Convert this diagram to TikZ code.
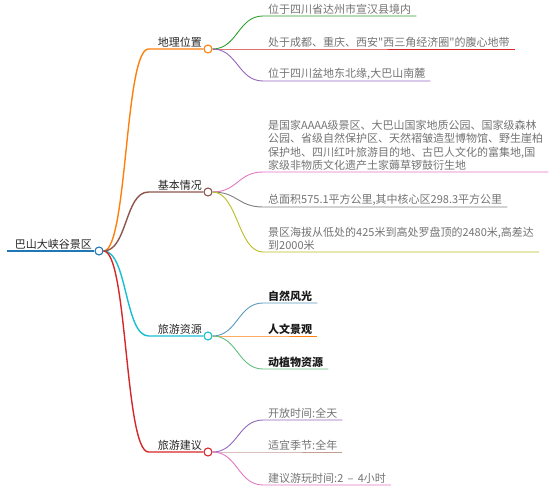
\documentclass[tikz,border=0pt]{standalone}
\usepackage{fontspec}
\setmainfont{Noto Sans CJK SC}[Ligatures=TeXOff]
\usepackage{tikz}
\usetikzlibrary{positioning}

\definecolor{cblue}{HTML}{1F77B4}
\definecolor{corange}{HTML}{FF7F0E}
\definecolor{cgreen}{HTML}{2CA02C}
\definecolor{cred}{HTML}{D62728}
\definecolor{cpurple}{HTML}{9467BD}
\definecolor{cbrown}{HTML}{8C564B}
\definecolor{cpink}{HTML}{E377C2}
\definecolor{cgray}{HTML}{7F7F7F}
\definecolor{colive}{HTML}{BCBD22}
\definecolor{ccyan}{HTML}{17BECF}
\definecolor{ctaupe}{HTML}{C49C94}
\definecolor{csteel}{HTML}{5B9BBF}
\definecolor{cmint}{HTML}{5FBF7F}

\begin{document}
\begin{tikzpicture}[x=1pt, y=-1pt,
  every node/.style={font=\fontsize{11}{13.5}\selectfont},
  rootlabel/.style={anchor=south east, inner xsep=2pt, inner ysep=1pt, text=black!85},
  branchlabel/.style={anchor=south east, inner xsep=2pt, inner ysep=1pt, text=black!85},
  leaf/.style={anchor=south west, inner xsep=5pt, inner ysep=1pt, align=left, text=black!55},
  boldleaf/.style={leaf, text=black!90, font=\fontsize{11}{13.5}\selectfont\bfseries},
  knob/.style={circle, draw=#1, fill=white, line width=1.1pt, inner sep=0pt, minimum size=8pt},
  trunk/.style={line width=1.4pt, draw=#1},
  twig/.style={line width=0.9pt, draw=#1}]
  \useasboundingbox (0,0) rectangle (556,494);

  % root
  \node (rootc) [knob=cblue] at (99,251) {};
  \node (root) [rootlabel] at (94,251) {巴山大峡谷景区};
  \draw [line width=2.6pt, cblue] ([xshift=-6pt]root.south west) -- (rootc);

  % main branches
  \node (geoc) [knob=corange] at (208,49) {};
  \node (geo) [branchlabel] at (204,49) {地理位置};
  \node (basicc) [knob=cbrown] at (208,192) {};
  \node (basic) [branchlabel] at (204,192) {基本情况};
  \node (resc) [knob=ccyan] at (208,336) {};
  \node (res) [branchlabel] at (204,336) {旅游资源};
  \node (tipsc) [knob=cred] at (208,452) {};
  \node (tips) [branchlabel] at (204,452) {旅游建议};

  \draw [trunk=corange] (rootc.east) .. controls +(24,0) and +(-24,0) .. ([xshift=-7pt]geo.south west) -- (geoc);
  \draw [trunk=cbrown] (rootc.east) .. controls +(24,0) and +(-24,0) .. ([xshift=-7pt]basic.south west) -- (basicc);
  \draw [trunk=ccyan] (rootc.east) .. controls +(24,0) and +(-24,0) .. ([xshift=-7pt]res.south west) -- (resc);
  \draw [trunk=cred] (rootc.east) .. controls +(24,0) and +(-24,0) .. ([xshift=-7pt]tips.south west) -- (tipsc);

  % leaves
  \node (geoa) [leaf] at (263,16) {位于四川省达州市宣汉县境内};
  \node (geob) [leaf] at (263,49) {处于成都、重庆、西安"西三角经济圈"的腹心地带};
  \node (geoz) [leaf] at (263,81) {位于四川盆地东北缘,大巴山南麓};

  \node (basica) [leaf] at (263,172) {是国家AAAA级景区、大巴山国家地质公园、国家级森林\\公园、省级自然保护区、天然褶皱造型博物馆、野生崖柏\\保护地、四川红叶旅游目的地、古巴人文化的富集地,国\\家级非物质文化遗产土家薅草锣鼓衍生地};
  \node (basicb) [leaf] at (263,207) {总面积575.1平方公里,其中核心区298.3平方公里};
  \node (basicz) [leaf] at (263,252) {景区海拔从低处的425米到高处罗盘顶的2480米,高差达\\到2000米};

  \node (resa) [boldleaf] at (263,303) {自然风光};
  \node (resb) [boldleaf] at (263,336) {人文景观};
  \node (resz) [boldleaf] at (263,369) {动植物资源};

  \node (tipsa) [leaf] at (263,420) {开放时间:全天};
  \node (tipsb) [leaf] at (263,452) {适宜季节:全年};
  \node (tipsz) [leaf] at (263,485) {建议游玩时间:2 \,–\, 4小时};

  \draw [twig=cgreen] (geoc.east) .. controls +(25,0) and +(-25,0) .. (geoa.south west) -- (geoa.south east);
  \draw [twig=cred] (geoc.east) .. controls +(25,0) and +(-25,0) .. (geob.south west) -- (geob.south east);
  \draw [twig=cpurple] (geoc.east) .. controls +(25,0) and +(-25,0) .. (geoz.south west) -- (geoz.south east);

  \draw [twig=cpink] (basicc.east) .. controls +(25,0) and +(-25,0) .. (basica.south west) -- (basica.south east);
  \draw [twig=cgray] (basicc.east) .. controls +(25,0) and +(-25,0) .. (basicb.south west) -- (basicb.south east);
  \draw [twig=colive] (basicc.east) .. controls +(25,0) and +(-25,0) .. (basicz.south west) -- (basicz.south east);

  \draw [twig=csteel] (resc.east) .. controls +(25,0) and +(-25,0) .. (resa.south west) -- (resa.south east);
  \draw [twig=corange] (resc.east) .. controls +(25,0) and +(-25,0) .. (resb.south west) -- (resb.south east);
  \draw [twig=cmint] (resc.east) .. controls +(25,0) and +(-25,0) .. (resz.south west) -- (resz.south east);

  \draw [twig=cpurple] (tipsc.east) .. controls +(25,0) and +(-25,0) .. (tipsa.south west) -- (tipsa.south east);
  \draw [twig=ctaupe] (tipsc.east) .. controls +(25,0) and +(-25,0) .. (tipsb.south west) -- (tipsb.south east);
  \draw [twig=cpink] (tipsc.east) .. controls +(25,0) and +(-25,0) .. (tipsz.south west) -- (tipsz.south east);
\end{tikzpicture}
\end{document}
